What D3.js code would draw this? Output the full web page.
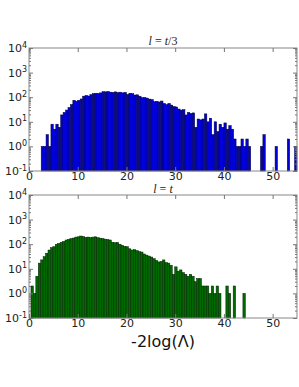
<!DOCTYPE html>
<html>
<head>
<meta charset="utf-8">
<script src="https://cdn.jsdelivr.net/npm/d3@7"></script>
<style>
body { margin: 0; background: #fff; }
svg { display: block; }
.tick text { font-family: "DejaVu Sans", sans-serif; font-size: 11px; fill: #222; }
</style>
</head>
<body>
<div id="chart"></div>
<script>
// histogram data (bin width 0.5)
var binWidth = 0.5;

var topStart = 2.5;
var topCounts = [
    1, 1, 3, 1, 8, 5, 8, 6, 19, 24,
    30, 38, 50, 75, 68, 75, 85, 110, 118, 112,
    128, 140, 145, 142, 150, 168, 165, 170, 160, 158,
    165, 155, 160, 150, 158, 130, 145, 140, 123, 125,
    110, 95, 98, 92, 84, 80, 66, 68, 64, 70,
    56, 50, 56, 48, 42, 40, 33, 30, 31, 19,
    24, 22, 23, 6, 13, 12, 13, 21, 10, 14,
    3, 10, 4, 8, 6, 9, 5, 7, 5, 2,
    1, 1, 2, 1, 2, 1, 0, 0, 0, 0,
    1, 3, 0, 0, 0, 0, 1, 0, 0, 0,
    0, 2, 0, 0, 1
];

var bottomStart = 0.4;
var bottomCounts = [
    2, 1, 5, 17, 23, 31, 43, 58, 72, 79,
    99, 108, 120, 130, 148, 158, 170, 178, 195, 200,
    215, 205, 190, 195, 185, 195, 200, 185, 175, 170,
    160, 155, 148, 120, 115, 118, 100, 90, 82, 79,
    65, 58, 60, 55, 50, 48, 40, 36, 33, 30,
    26, 22, 19, 20, 23, 18, 17, 14, 6, 12,
    8, 9, 7, 6, 5, 6, 5, 3, 4, 4,
    2, 2, 2, 1, 2, 1, 2, 1, 0, 0,
    2, 1, 0, 2, 0, 0, 0, 1
];

var xTicks = [0, 10, 20, 30, 40, 50];
var yTicks = [0.1, 1, 10, 100, 1000, 10000];
var yExps = ["-1", "0", "1", "2", "3", "4"];

var W = 299, H = 387;
var left = 29, right = 297;

var svg = d3.select("#chart").append("svg")
    .attr("width", W)
    .attr("height", H);

var x = d3.scaleLinear().domain([0, 55]).range([left, right]);

function toBins(start, counts){
    var bins = [];
    counts.forEach(function(c, i){
        if (c > 0) bins.push({x0: start + i * binWidth, x1: start + (i + 1) * binWidth, n: c});
    });
    return bins;
}

function minorTicks(){
    var m = [];
    for (var e = -1; e < 4; e++) {
        for (var k = 2; k < 10; k++) m.push(k * Math.pow(10, e));
    }
    return m;
}

function drawPanel(top, bottom, bins, fill, edge){
    var y = d3.scaleLog().domain([0.1, 10000]).range([bottom, top]);
    var g = svg.append("g");

    g.selectAll("rect.bar")
        .data(bins).enter().append("rect")
        .attr("class", "bar")
        .attr("x", function(d){ return x(d.x0); })
        .attr("width", function(d){ return x(d.x1) - x(d.x0); })
        .attr("y", function(d){ return y(d.n); })
        .attr("height", function(d){ return y(0.1) - y(d.n); })
        .attr("fill", fill)
        .attr("stroke", edge)
        .attr("stroke-width", 0.5);

    // frame
    g.append("rect")
        .attr("x", left).attr("y", top)
        .attr("width", right - left).attr("height", bottom - top)
        .attr("fill", "none")
        .attr("stroke", "#888")
        .attr("stroke-width", 1);

    // x axes (ticks inside)
    g.append("g").attr("transform", "translate(0," + bottom + ")")
        .call(d3.axisBottom(x).tickValues(xTicks).tickSize(-4).tickPadding(1));
    g.append("g").attr("transform", "translate(0," + top + ")")
        .call(d3.axisTop(x).tickValues(xTicks).tickSize(-4).tickFormat(""));

    // y axes, major + minor
    var yl = g.append("g").attr("transform", "translate(" + left + ",0)")
        .call(d3.axisLeft(y).tickValues(yTicks).tickSize(-4).tickPadding(2).tickFormat(function(){ return "10"; }));
    g.append("g").attr("transform", "translate(" + left + ",0)")
        .call(d3.axisLeft(y).tickValues(minorTicks()).tickSize(-2).tickFormat(""));
    g.append("g").attr("transform", "translate(" + right + ",0)")
        .call(d3.axisRight(y).tickValues(yTicks).tickSize(-4).tickFormat(""));
    g.append("g").attr("transform", "translate(" + right + ",0)")
        .call(d3.axisRight(y).tickValues(minorTicks()).tickSize(-2).tickFormat(""));

    yl.selectAll(".tick text").each(function(d, i){
        d3.select(this).append("tspan")
            .attr("dy", "-0.55em")
            .attr("font-size", "8px")
            .text(yExps[i]);
    });

    g.selectAll(".domain").remove();
    g.selectAll(".tick line").attr("stroke", "#777");
    return g;
}

drawPanel(48, 171, toBins(topStart, topCounts), "#0000d8", "#000040");
drawPanel(195, 318, toBins(bottomStart, bottomCounts), "#006a00", "#002200");

// panel titles (math style)
function title(yPos, parts){
    var t = svg.append("text")
        .attr("x", (left + right) / 2)
        .attr("y", yPos)
        .attr("text-anchor", "middle")
        .attr("font-family", "Liberation Serif, serif")
        .attr("font-size", "12px")
        .attr("fill", "#222");
    parts.forEach(function(p){
        t.append("tspan").attr("font-style", p[1] ? "italic" : "normal").text(p[0]);
    });
}
title(45, [["l", true], [" = ", false], ["t", true], ["/3", false]]);
title(193, [["l", true], [" = ", false], ["t", true]]);

svg.append("text")
    .attr("x", (left + right) / 2)
    .attr("y", 347)
    .attr("text-anchor", "middle")
    .attr("font-family", "DejaVu Sans, sans-serif")
    .attr("font-size", "16px")
    .attr("fill", "#111")
    .text("-2log(\u039B)");
</script>
</body>
</html>
